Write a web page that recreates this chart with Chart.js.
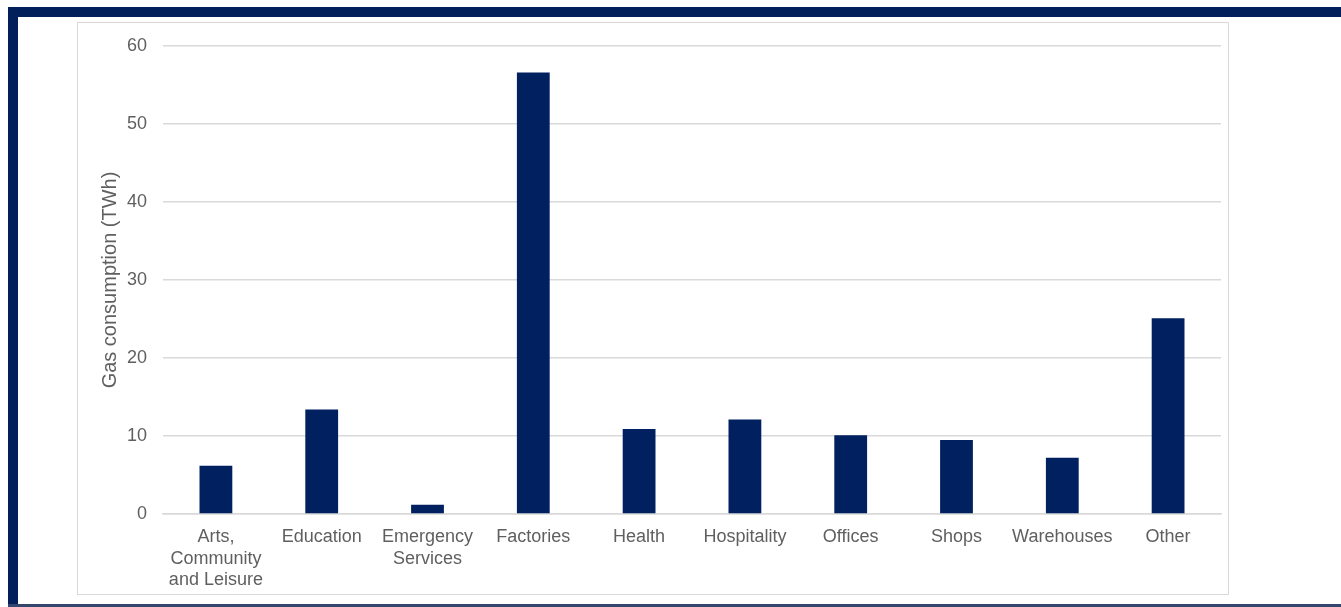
<!DOCTYPE html>
<html>
<head>
<meta charset="utf-8">
<script src="https://cdn.jsdelivr.net/npm/chart.js@4.4.1/dist/chart.umd.min.js"></script>
<style>
    html, body {
        margin: 0;
        padding: 0;
        background: #ffffff;
        overflow: hidden;
    }
    #page {
        position: relative;
        width: 1341px;
        height: 607px;
    }
    .frame-top {
        position: absolute;
        left: 8px;
        top: 7px;
        width: 1333px;
        height: 10px;
        background: #001f5b;
    }
    .frame-left {
        position: absolute;
        left: 8px;
        top: 7px;
        width: 10px;
        height: 600px;
        background: #001f5b;
    }
    .frame-bottom {
        position: absolute;
        left: 8px;
        top: 604px;
        width: 1333px;
        height: 3px;
        background: #34466e;
    }
    .chart-box {
        position: absolute;
        left: 77px;
        top: 22px;
        width: 1152px;
        height: 573px;
        border: 1px solid #d9d9d9;
        box-sizing: border-box;
    }
    #gasChart {
        position: absolute;
        left: 0;
        top: 0;
    }
</style>
</head>
<body>
<div id="page">
    <div class="frame-top"></div>
    <div class="frame-left"></div>
    <div class="frame-bottom"></div>
    <div class="chart-box"></div>
    <canvas id="gasChart" width="1341" height="607"></canvas>
</div>

<script>
// Non-domestic gas consumption by building type (TWh)
const sectors = [
    ["Arts,", "Community", "and Leisure"],
    "Education",
    ["Emergency", "Services"],
    "Factories",
    "Health",
    "Hospitality",
    "Offices",
    "Shops",
    "Warehouses",
    "Other"
];
const gasTWh = [6.2, 13.4, 1.2, 56.6, 10.9, 12.1, 10.1, 9.5, 7.2, 25.1];
const yTicks = [0, 10, 20, 30, 40, 50, 60];

const navy = "#002060";
const textGrey = "#5f5f5f";
const gridGrey = "#d9d9d9";
const labelFont = { family: "Liberation Sans, Arial, sans-serif", size: 18 };

const ctx = document.getElementById("gasChart").getContext("2d");

new Chart(ctx, {
    type: "bar",
    data: {
        labels: sectors,
        datasets: [
            {
                label: "Gas consumption (TWh)",
                data: gasTWh,
                backgroundColor: navy,
                borderWidth: 0,
                categoryPercentage: 0.62,
                barPercentage: 0.5
            }
        ]
    },
    options: {
        responsive: false,
        animation: false,
        layout: {
            padding: { left: 94, right: 120, top: 46, bottom: 0 }
        },
        plugins: {
            legend: { display: false },
            tooltip: { enabled: false }
        },
        scales: {
            y: {
                min: 0,
                max: 60,
                afterFit: function (scale) {
                    scale.width = 69;
                },
                afterBuildTicks: function (scale) {
                    scale.ticks = yTicks.map(v => ({ value: v }));
                },
                border: { display: false },
                grid: {
                    color: gridGrey,
                    lineWidth: 1.5,
                    drawTicks: false
                },
                ticks: {
                    color: textGrey,
                    padding: 16,
                    font: labelFont
                },
                title: {
                    display: true,
                    text: "Gas consumption (TWh)",
                    color: textGrey,
                    padding: { top: 4, bottom: 0 },
                    font: { family: labelFont.family, size: 20 }
                }
            },
            x: {
                afterFit: function (scale) {
                    scale.height = 93;
                },
                border: { color: gridGrey, width: 1.5 },
                grid: { display: false, drawTicks: false },
                ticks: {
                    color: textGrey,
                    padding: 13,
                    maxRotation: 0,
                    autoSkip: false,
                    font: Object.assign({ lineHeight: 1.17 }, labelFont)
                }
            }
        }
    }
});
</script>
</body>
</html>
